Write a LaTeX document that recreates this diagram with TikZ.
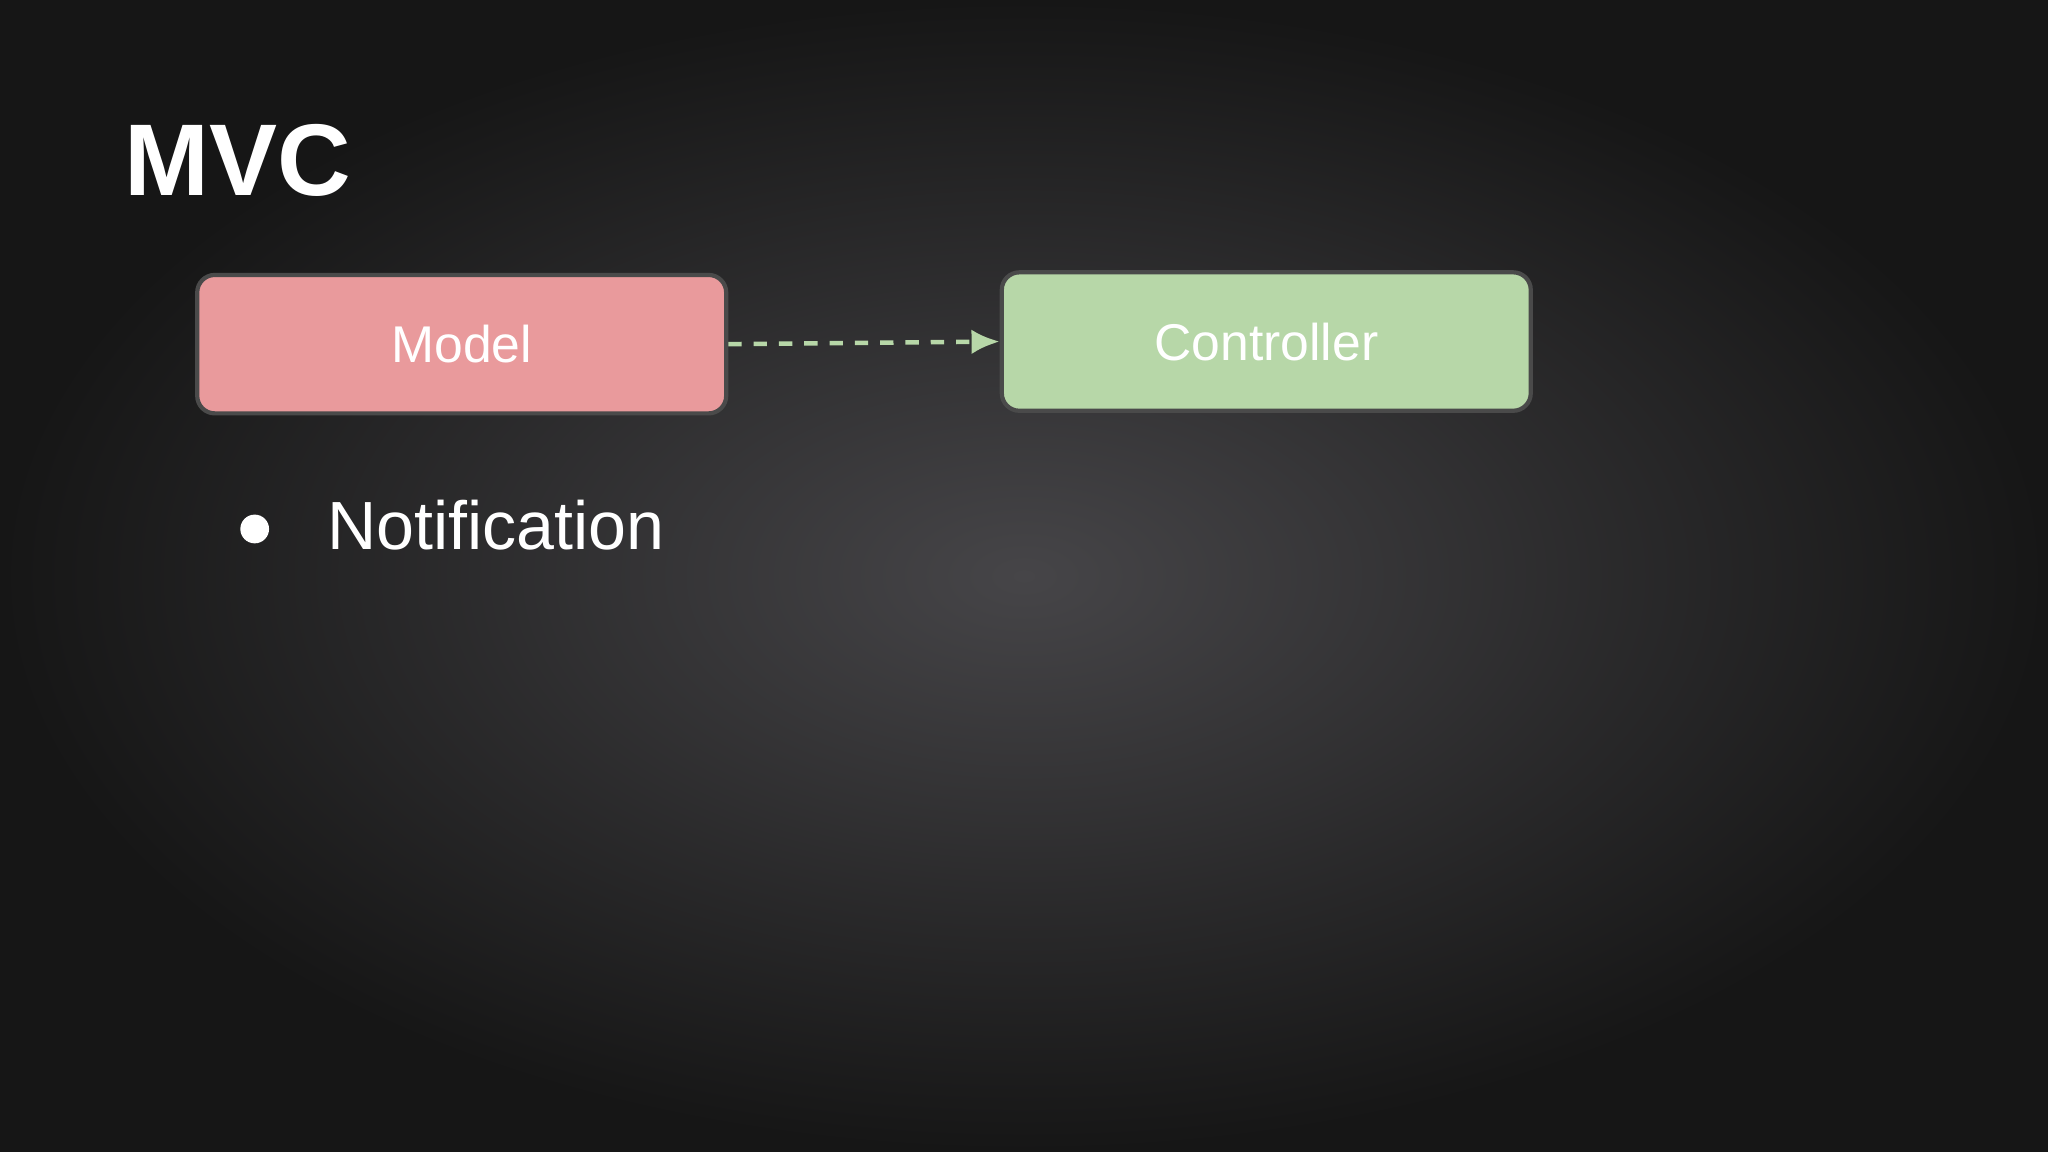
\documentclass[tikz,border=0pt]{standalone}
\usepackage{fontspec}
\setmainfont{Liberation Sans}
\usetikzlibrary{arrows.meta}
\definecolor{bgin}{HTML}{464548}
\definecolor{bgout}{HTML}{161616}
\definecolor{modelc}{HTML}{E99A9C}
\definecolor{ctrlc}{HTML}{B7D7A8}
\definecolor{edgec}{HTML}{4A4A4A}
\tikzset{box/.style={draw=edgec,line width=1.2pt,rounded corners=5pt,minimum width=405*0.01306cm,minimum height=106*0.01306cm,text=white,font=\fontsize{14.7}{18}\selectfont,inner sep=0pt}}
\begin{document}
\begin{tikzpicture}[x=0.01306cm,y=-0.01306cm]
\useasboundingbox (0,0) rectangle (1568,882);
\shade[inner color=bgin,outer color=bgout] (0,0) rectangle (1568,882);
\node[anchor=base west,text=white,font=\fontsize{29}{34}\selectfont\bfseries,inner sep=0pt] (title) at (95,150) {MVC};
\node[box,fill=modelc] (model) at (353.5,263.5) {Model};
\node[box,fill=ctrlc] (ctrl) at (969.5,261.5) {Controller};
\draw[ctrlc,line width=1.3pt,dash pattern=on 3.8pt off 3.4pt,-{Latex[length=8pt,width=7pt]}] (model.east) -- (ctrl.west);
\fill[white] (195,405) circle (11) coordinate (bul);
\node[anchor=base west,text=white,font=\fontsize{19.4}{24}\selectfont,inner sep=0pt] (notif) at (250,421) {Notification};
\end{tikzpicture}
\end{document}
